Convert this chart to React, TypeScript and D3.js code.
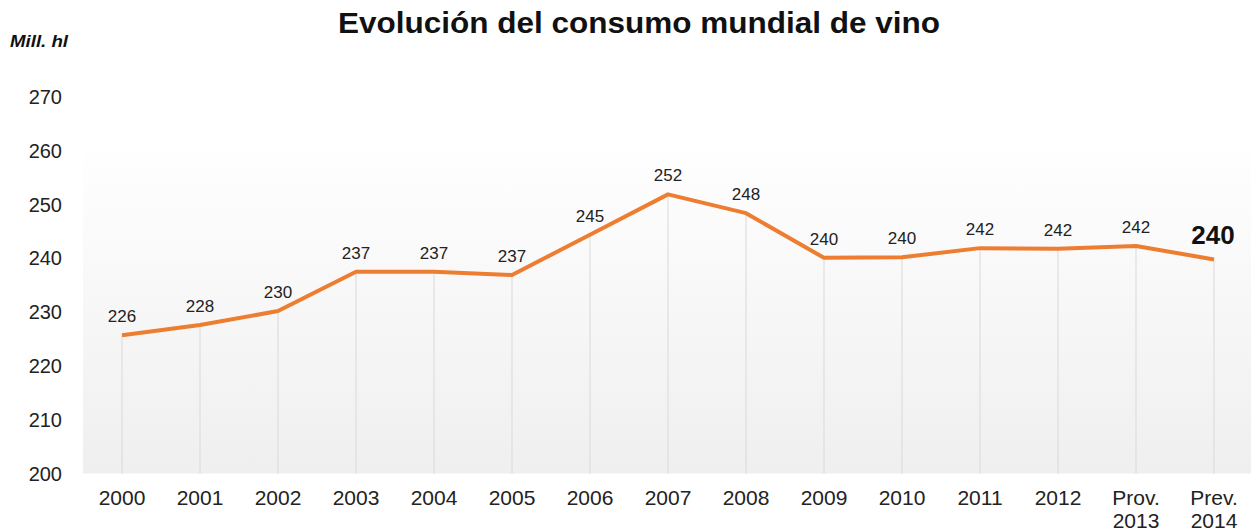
import React from "react";
import * as d3 from "d3";

const categories = ["2000","2001","2002","2003","2004","2005","2006","2007","2008","2009","2010","2011","2012","Prov.\n2013","Prev.\n2014"];
const values = [225.7, 227.6, 230.2, 237.5, 237.5, 236.9, 244.4, 251.9, 248.4, 240.1, 240.2, 241.9, 241.8, 242.3, 239.8];
const valueLabels = ["226","228","230","237","237","237","245","252","248","240","240","242","242","242","240"];
const yTicks = [200, 210, 220, 230, 240, 250, 260, 270];

const W = 1251, H = 529;
const plotLeft = 83, plotRight = 1253, plotBottom = 473.5, plotTopVal = 97;

export default function App() {
  const x = d3.scalePoint<string>().domain(categories).range([122, 1214]);
  const y = d3.scaleLinear().domain([200, 270]).range([plotBottom, plotTopVal]);
  const line = d3.line<number>().x((_, i) => x(categories[i])!).y(d => y(d));
  const font = "'Liberation Sans', Arial, sans-serif";
  const last = values.length - 1;
  return (
    <svg width={W} height={H} style={{ position: "absolute", left: 0, top: 0, background: "#fff" }} fontFamily={font}>
      <defs>
        <linearGradient id="bg" x1="0" y1="0" x2="0" y2="1">
          <stop offset="0" stopColor="#ffffff" />
          <stop offset="1" stopColor="#efefef" />
        </linearGradient>
      </defs>
      <rect x={plotLeft} y={140} width={plotRight - plotLeft} height={plotBottom - 140} fill="url(#bg)" />
      <text x={338} y={33} fontSize={29} fontWeight="bold" fill="#111" textLength={602} lengthAdjust="spacingAndGlyphs">Evolución del consumo mundial de vino</text>
      <text x={10} y={47} fontSize={16} fontWeight="bold" fontStyle="italic" fill="#111" textLength={58} lengthAdjust="spacingAndGlyphs">Mill.  hl</text>
      {yTicks.map(t => (
        <text key={t} x={62} y={y(t) + 7} textAnchor="end" fontSize={20} fill="#222">{t}</text>
      ))}
      {values.map((v, i) => (
        <line key={"g" + i} x1={x(categories[i])} x2={x(categories[i])} y1={y(v)} y2={plotBottom} stroke="#d9d9d9" strokeWidth={1} />
      ))}
      <path d={line(values) || ""} fill="none" stroke="#ED7D31" strokeWidth={4} strokeLinejoin="round" />
      {values.map((v, i) => i === last ? (
        <text key={"l" + i} x={x(categories[i])! - 1} y={y(v) - 15} textAnchor="middle" fontSize={26} fontWeight="bold" fill="#111">{valueLabels[i]}</text>
      ) : (
        <text key={"l" + i} x={x(categories[i])} y={y(v) - 13} textAnchor="middle" fontSize={17} fill="#222">{valueLabels[i]}</text>
      ))}
      {categories.map((c, i) => (
        <text key={"c" + i} x={x(c)} y={505} textAnchor="middle" fontSize={21} fill="#222">
          {c.split("\n").map((s, j) => (
            <tspan key={j} x={x(c)} dy={j === 0 ? 0 : 22.5}>{s}</tspan>
          ))}
        </text>
      ))}
    </svg>
  );
}
